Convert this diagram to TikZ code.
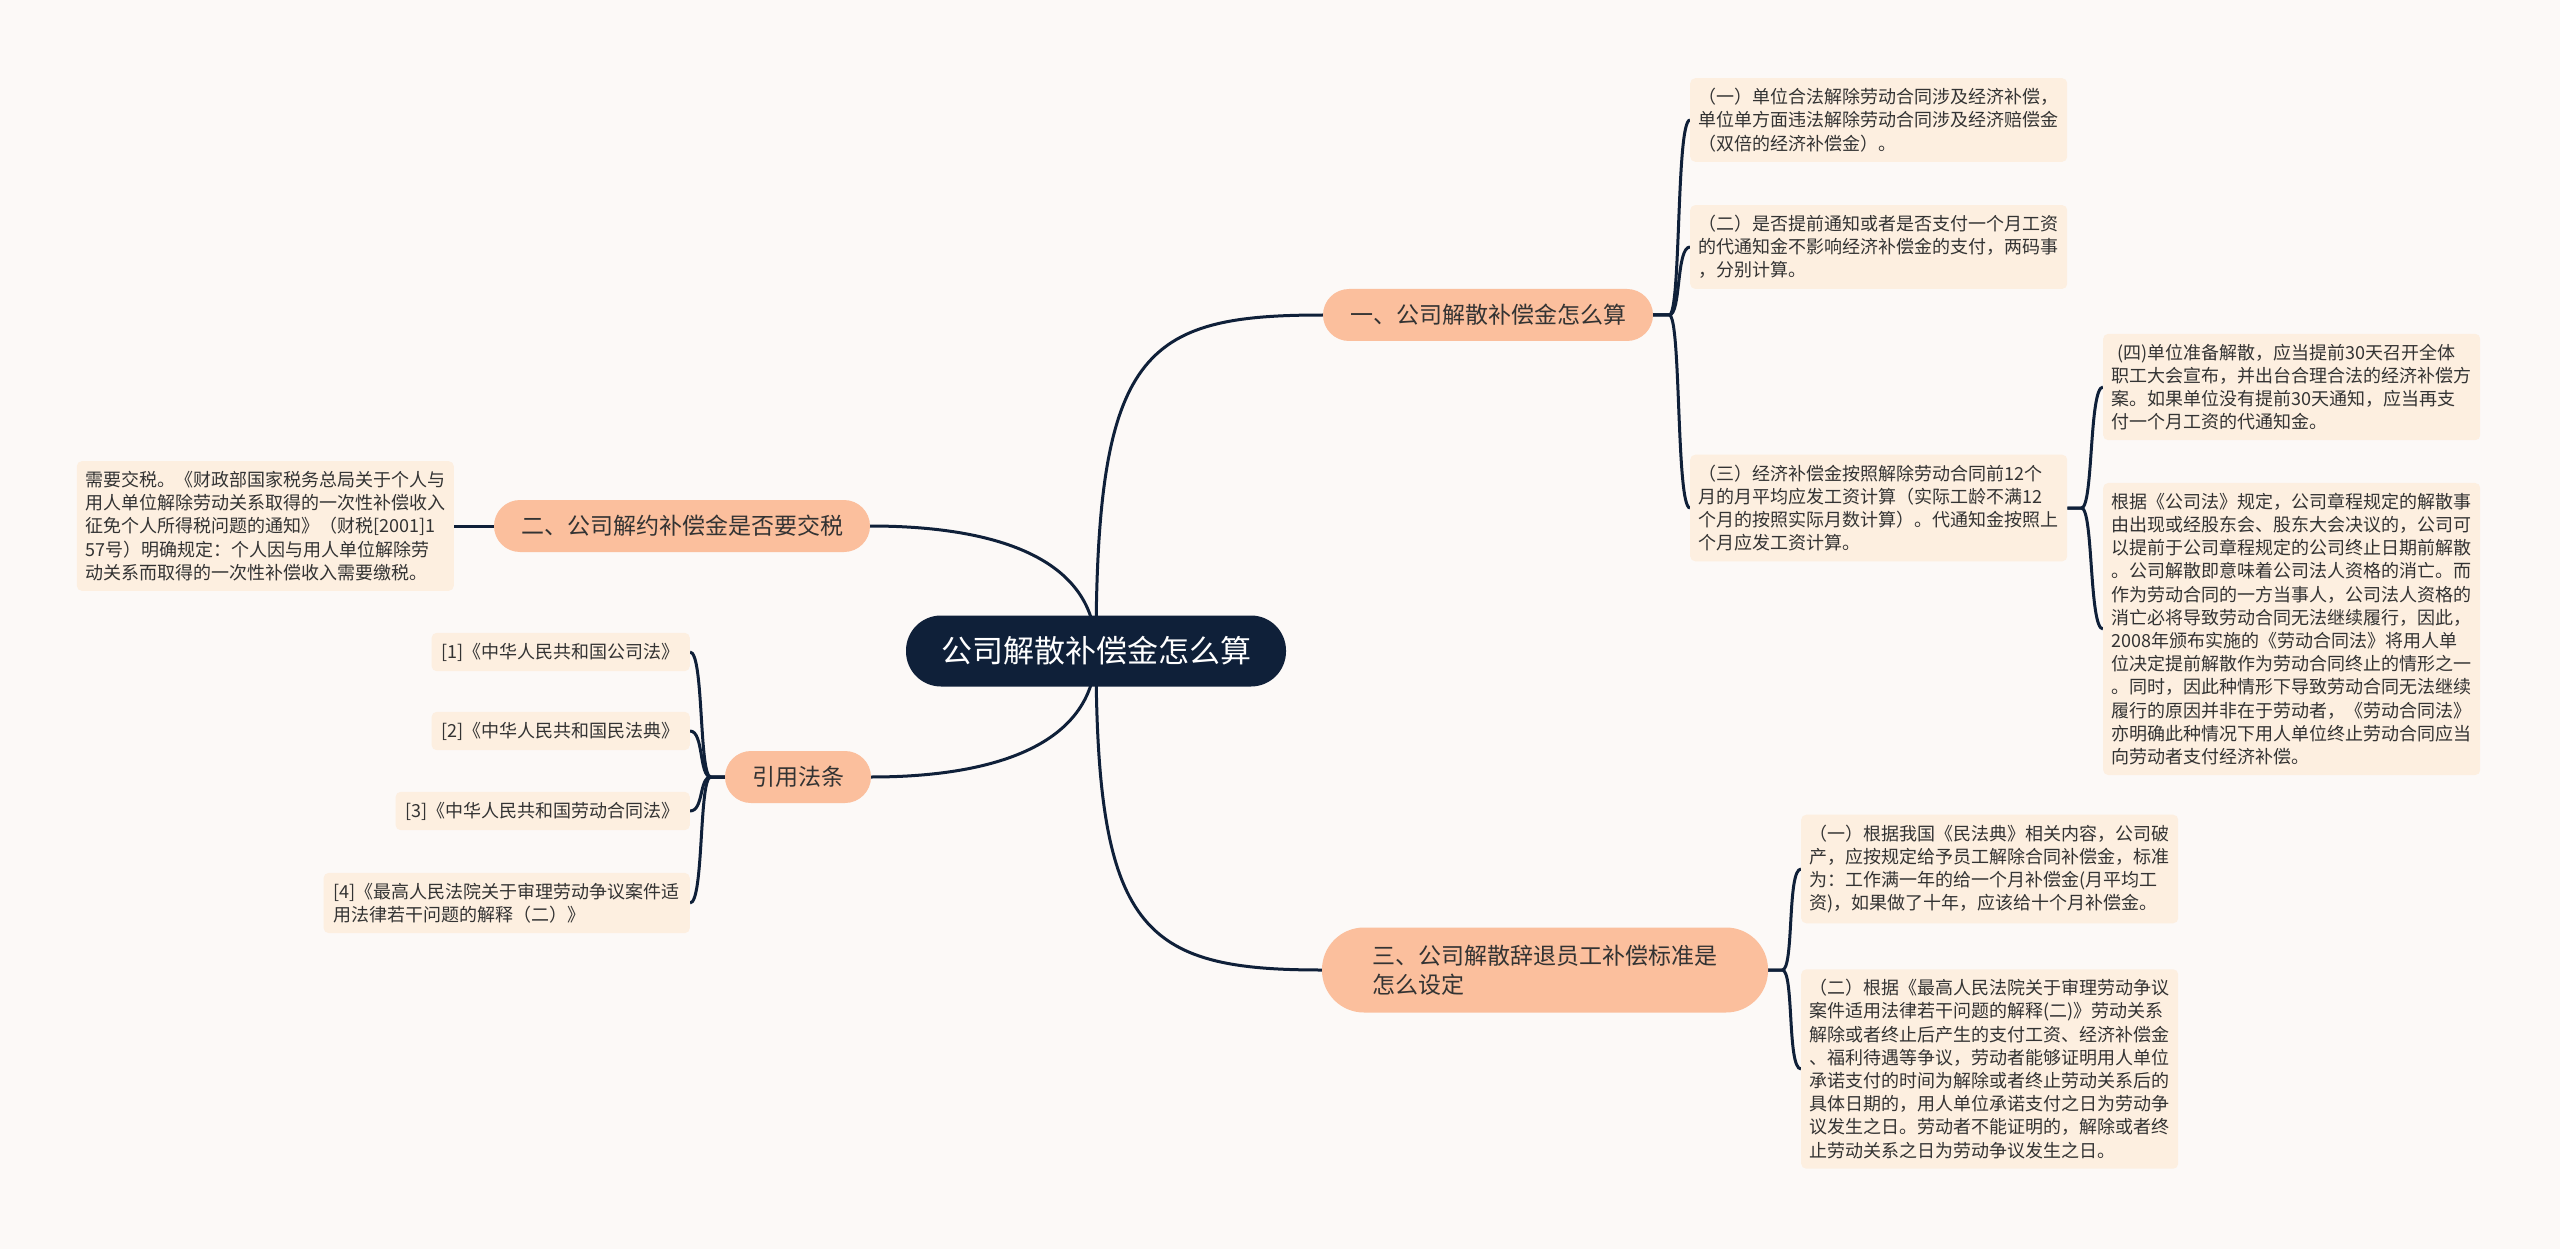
\documentclass[tikz,border=0pt]{standalone}
\usepackage{fontspec}
\newfontfamily\cjk{Noto Sans CJK SC}
\usepackage{xcolor}
\usepackage{tikz}
\usetikzlibrary{positioning,calc}

\definecolor{pagebg}{HTML}{FCF9F7}
\definecolor{rootfill}{HTML}{0F2039}
\definecolor{branchfill}{HTML}{FBBF9D}
\definecolor{leaffill}{HTML}{FDEFE0}
\definecolor{textgrey}{HTML}{333333}
\definecolor{linkcol}{HTML}{0F2039}

\pgfdeclarelayer{back}
\pgfsetlayers{back,main}

\begin{document}
\begin{tikzpicture}[x=1pt, y=-1pt,
  root/.style={fill=rootfill, text=white, rounded corners=35pt, minimum height=71pt, inner xsep=35pt, font=\cjk\fontsize{31pt}{36pt}\selectfont},
  branch/.style={fill=branchfill, text=textgrey, rounded corners=26pt, minimum height=52pt, inner xsep=27pt, font=\cjk\fontsize{23pt}{29pt}\selectfont},
  cite/.style={fill=leaffill, text=textgrey, rounded corners=5pt, align=left, inner xsep=10pt, inner ysep=10pt, font=\cjk\fontsize{18pt}{23.2pt}\selectfont},
  leaf/.style={cite, text width=360pt, inner xsep=8.5pt},
  link/.style={draw=linkcol, line width=3pt}]
  \useasboundingbox (0,0) rectangle (2560,1249);

  % Root and branches
  \node[root] (root) at (1096,651) {公司解散补偿金怎么算};
  \node[branch] (b1) at (1488,315) {一、公司解散补偿金怎么算};
  \node[branch] (b2) at (682,526) {二、公司解约补偿金是否要交税};
  \node[branch] (b3) at (1545,970) [minimum width=446pt, minimum height=85pt, rounded corners=42pt, align=left] {三、公司解散辞退员工补偿标准是\\怎么设定};
  \node[branch] (b4) at (798,777) {引用法条};

  % Leaves of b1
  \node[leaf, anchor=west] (l1) at (1690,120) {（一）单位合法解除劳动合同涉及经济补偿，\\单位单方面违法解除劳动合同涉及经济赔偿金\\（双倍的经济补偿金）。};
  \node[leaf, anchor=west] (l2) at (1690,247) {（二）是否提前通知或者是否支付一个月工资\\的代通知金不影响经济补偿金的支付，两码事\\，分别计算。};
  \node[leaf, anchor=west] (l3) at (1690,508) {（三）经济补偿金按照解除劳动合同前12个\\月的月平均应发工资计算（实际工龄不满12\\个月的按照实际月数计算）。代通知金按照上\\个月应发工资计算。};

  % Leaves of l3
  \node[leaf, anchor=west] (l3a) at (2103,387) {\hspace*{6pt}(四)单位准备解散，应当提前30天召开全体\\职工大会宣布，并出台合理合法的经济补偿方\\案。如果单位没有提前30天通知，应当再支\\付一个月工资的代通知金。};
  \node[leaf, anchor=west] (l3b) at (2103,629) {根据《公司法》规定，公司章程规定的解散事\\由出现或经股东会、股东大会决议的，公司可\\以提前于公司章程规定的公司终止日期前解散\\。公司解散即意味着公司法人资格的消亡。而\\作为劳动合同的一方当事人，公司法人资格的\\消亡必将导致劳动合同无法继续履行，因此，\\2008年颁布实施的《劳动合同法》将用人单\\位决定提前解散作为劳动合同终止的情形之一\\。同时，因此种情形下导致劳动合同无法继续\\履行的原因并非在于劳动者，《劳动合同法》\\亦明确此种情况下用人单位终止劳动合同应当\\向劳动者支付经济补偿。};

  % Leaves of b3
  \node[leaf, anchor=west] (m1) at (1801,869) {（一）根据我国《民法典》相关内容，公司破\\产，应按规定给予员工解除合同补偿金，标准\\为：工作满一年的给一个月补偿金(月平均工\\资)，如果做了十年，应该给十个月补偿金。};
  \node[leaf, anchor=west] (m2) at (1801,1069) {（二）根据《最高人民法院关于审理劳动争议\\案件适用法律若干问题的解释(二)》劳动关系\\解除或者终止后产生的支付工资、经济补偿金\\、福利待遇等争议，劳动者能够证明用人单位\\承诺支付的时间为解除或者终止劳动关系后的\\具体日期的，用人单位承诺支付之日为劳动争\\议发生之日。劳动者不能证明的，解除或者终\\止劳动关系之日为劳动争议发生之日。};

  % Leaf of b2
  \node[leaf, anchor=east] (tax) at (454,526) {需要交税。《财政部国家税务总局关于个人与\\用人单位解除劳动关系取得的一次性补偿收入\\征免个人所得税问题的通知》（财税[2001]1\\57号）明确规定：个人因与用人单位解除劳\\动关系而取得的一次性补偿收入需要缴税。};

  % Cited laws
  \node[cite, anchor=east] (r1) at (690,652) {[1]《中华人民共和国公司法》};
  \node[cite, anchor=east] (r2) at (690,731) {[2]《中华人民共和国民法典》};
  \node[cite, anchor=east] (r3) at (690,811) {[3]《中华人民共和国劳动合同法》};
  \node[cite, anchor=east] (r4) at (690,903) {[4]《最高人民法院关于审理劳动争议案件适\\用法律若干问题的解释（二）》};

  \begin{pgfonlayer}{back}
    \fill[pagebg] (0,0) rectangle (2560,1249);
    % Root to branches
    \draw[link] (root.center) .. controls +(0,-300) and +(-180,0) .. (b1.west);
    \draw[link] (root.center) .. controls +(0,-100) and +(110,0) .. (b2.east);
    \draw[link] (root.center) .. controls +(0,280) and +(-180,0) .. (b3.west);
    \draw[link] (root.center) .. controls +(0,100) and +(110,0) .. (b4.east);
    % Branches to leaves
    \foreach \c in {l1,l2,l3}
      \draw[link] (b1.east) -- ++(16,0) .. controls +(12,0) and +(-14,0) .. (\c.west);
    \foreach \c in {l3a,l3b}
      \draw[link] (l3.east) -- ++(14,0) .. controls +(12,0) and +(-14,0) .. (\c.west);
    \foreach \c in {m1,m2}
      \draw[link] (b3.east) -- ++(14,0) .. controls +(12,0) and +(-14,0) .. (\c.west);
    \foreach \c in {r1,r2,r3,r4}
      \draw[link] (b4.west) -- ++(-14,0) .. controls +(-12,0) and +(14,0) .. (\c.east);
    \draw[link] (b2.west) -- (tax.east);
  \end{pgfonlayer}
\end{tikzpicture}
\end{document}
